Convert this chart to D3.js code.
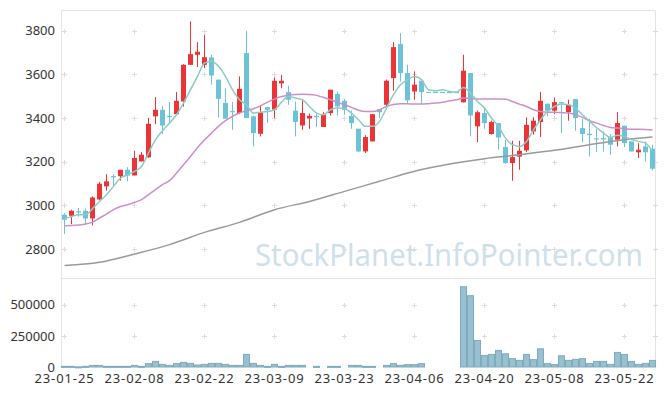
<!DOCTYPE html>
<html>
<head>
<meta charset="utf-8">
<script src="https://cdn.jsdelivr.net/npm/d3@7"></script>
<style>
  body { margin: 0; background: #fff; }
  svg { display: block; }
  text { font-family: "Noto Sans", "DejaVu Sans", sans-serif; }
</style>
</head>
<body>
<div id="chart"></div>
<script>
// trading days, 23-01-25 .. 23-05-26
const dates = [
  "23-01-25","23-01-26","23-01-27","23-01-30","23-01-31","23-02-01","23-02-02","23-02-03","23-02-06","23-02-07",
  "23-02-08","23-02-09","23-02-10","23-02-13","23-02-14","23-02-15","23-02-16","23-02-17","23-02-20","23-02-21",
  "23-02-22","23-02-23","23-02-24","23-02-27","23-02-28","23-03-02","23-03-03","23-03-06","23-03-07","23-03-08",
  "23-03-09","23-03-10","23-03-13","23-03-14","23-03-15","23-03-16","23-03-17","23-03-20","23-03-21","23-03-22",
  "23-03-23","23-03-24","23-03-27","23-03-28","23-03-29","23-03-30","23-03-31","23-04-03","23-04-04","23-04-05",
  "23-04-06","23-04-07","23-04-10","23-04-11","23-04-12","23-04-13","23-04-14","23-04-17","23-04-18","23-04-19",
  "23-04-20","23-04-21","23-04-24","23-04-25","23-04-26","23-04-27","23-04-28","23-05-02","23-05-03","23-05-04",
  "23-05-08","23-05-09","23-05-10","23-05-11","23-05-12","23-05-15","23-05-16","23-05-17","23-05-18","23-05-19",
  "23-05-22","23-05-23","23-05-24","23-05-25","23-05-26"
];

const openP = [
  2957,2952,2973,2975,2940,3027,3087,3134,3133,3163,
  3137,3201,3220,3408,3438,3410,3418,3476,3644,3690,
  3644,3678,3576,3469,3432,3423,3698,3408,3328,3450,
  3438,3559,3519,3434,3366,3398,3410,3359,3423,3511,
  3479,3410,3351,3247,3293,3441,3461,3583,3739,3606,
  3522,3571,3520,3520,3520,3520,3520,3472,3606,3362,
  3423,3327,3377,3267,3194,3223,3252,3339,3382,3466,
  3434,3473,3427,3487,3354,3328,3307,3308,3313,3301,
  3365,3293,3243,3270,3259
];
const highP = [
  2965,2980,2988,2985,3041,3107,3143,3143,3163,3175,
  3250,3244,3400,3496,3456,3473,3519,3647,3843,3748,
  3782,3690,3576,3537,3473,3591,3800,3410,3458,3452,
  3586,3598,3548,3476,3488,3420,3423,3427,3530,3522,
  3488,3434,3351,3321,3418,3441,3576,3748,3789,3644,
  3614,3571,3520,3520,3520,3520,3520,3690,3606,3434,
  3449,3388,3377,3300,3296,3296,3403,3403,3519,3466,
  3495,3473,3484,3487,3397,3397,3351,3339,3327,3427,
  3365,3293,3285,3293,3278
];
const lowP = [
  2869,2914,2948,2911,2908,3025,3067,3090,3113,3110,
  3137,3201,3218,3372,3327,3377,3415,3453,3644,3634,
  3629,3553,3403,3400,3346,3418,3400,3270,3316,3377,
  3400,3537,3461,3316,3346,3351,3359,3359,3411,3411,
  3415,3351,3245,3240,3293,3400,3453,3525,3568,3469,
  3484,3464,3520,3520,3520,3520,3520,3472,3316,3290,
  3351,3324,3255,3190,3113,3163,3244,3324,3313,3408,
  3418,3331,3388,3342,3290,3224,3244,3247,3232,3270,
  3267,3247,3217,3201,3160
];
const closeP = [
  2934,2975,2970,2940,3036,3099,3110,3131,3163,3136,
  3217,3232,3374,3438,3366,3408,3479,3644,3693,3704,
  3679,3595,3488,3397,3428,3534,3400,3331,3427,3438,
  3571,3571,3484,3382,3423,3410,3404,3418,3530,3453,
  3438,3377,3247,3313,3418,3427,3571,3725,3606,3481,
  3553,3519,3520,3520,3520,3520,3520,3617,3412,3427,
  3377,3382,3311,3194,3221,3250,3369,3388,3479,3434,
  3473,3470,3461,3400,3327,3322,3305,3305,3278,3377,
  3285,3247,3255,3243,3168
];
const volume = [
  5000,5000,1000,5000,13000,13000,5000,5000,5000,5000,
  13000,5000,27000,45000,21000,13000,27000,37000,29000,16000,
  21000,29000,29000,21000,13000,13000,101000,29000,13000,5000,
  21000,5000,13000,13000,13000,0,5000,0,5000,5000,
  0,13000,13000,5000,5000,0,13000,27000,13000,19000,
  19000,27000,0,0,0,0,0,644000,572000,213000,
  93000,101000,133000,106000,67000,53000,101000,59000,146000,27000,
  19000,90000,53000,61000,67000,27000,45000,45000,21000,117000,
  101000,45000,21000,29000,53000
];
const ma5 = [
  2939,2949,2957,2957,2985,3018,3049,3087,3125,3140,
  3156,3178,3240,3301,3342,3377,3415,3469,3530,3591,
  3652,3660,3637,3591,3530,3484,3461,3423,3427,3430,
  3438,3473,3499,3492,3484,3453,3423,3415,3438,3446,
  3443,3423,3392,3362,3362,3385,3446,3507,3553,3576,
  3591,3576,3530,3525,3530,3522,3519,3540,3514,3476,
  3446,3400,3362,3308,3278,3270,3293,3346,3392,3430,
  3453,3464,3461,3446,3415,3385,3357,3331,3311,3321,
  3316,3301,3293,3285,3247
];
const ma20 = [
  2907,2908,2910,2914,2923,2942,2960,2980,2995,3003,
  3014,3026,3049,3072,3095,3113,3148,3186,3224,3265,
  3300,3331,3362,3388,3408,3423,3434,3443,3456,3473,
  3487,3499,3505,3508,3509,3508,3504,3495,3484,3472,
  3461,3449,3436,3430,3430,3438,3453,3462,3466,3466,
  3464,3464,3466,3469,3473,3479,3484,3492,3489,3487,
  3487,3487,3487,3486,3476,3464,3453,3438,3430,3427,
  3427,3425,3423,3415,3403,3388,3377,3366,3357,3354,
  3351,3349,3349,3348,3346
];
// 60-day line, read at every fifth day
const ma60Idx = [0,5,10,15,20,25,30,35,40,45,50,55,60,65,70,75,80,84];
const ma60Val = [2724,2739,2777,2820,2876,2922,2980,3018,3064,3110,3156,3189,3214,3232,3252,3278,3301,3313];

const priceTicks = [2800, 3000, 3200, 3400, 3600, 3800];
const volTicks = [0, 250000, 500000];
const dateTicks = ["23-01-25","23-02-08","23-02-22","23-03-09","23-03-23","23-04-06","23-04-20","23-05-08","23-05-22"];

const W = 665, H = 396;
const plotL = 61, plotR = 656, plotT = 10.5, split = 278, bottom = 367;

const svg = d3.select("#chart").append("svg")
  .attr("width", W)
  .attr("height", H);

const x = d3.scaleBand()
  .domain(dates)
  .range([plotL, plotR])
  .padding(0);
const cx = d => x(d) + x.bandwidth() / 2;

const y = d3.scaleLinear().domain([2667, 3893]).range([split, plotT]);
const yv = d3.scaleLinear().domain([0, 714000]).range([bottom, split]);

// frame
const frame = svg.append("g").attr("stroke", "#e4e4e4").attr("stroke-width", 1);
frame.append("line").attr("x1", 61.5).attr("x2", 655.5).attr("y1", 10.5).attr("y2", 10.5);
frame.append("line").attr("x1", 61.5).attr("x2", 61.5).attr("y1", 10.5).attr("y2", bottom);
frame.append("line").attr("x1", 655.5).attr("x2", 655.5).attr("y1", 10.5).attr("y2", bottom);
frame.append("line").attr("x1", 61.5).attr("x2", 655.5).attr("y1", 278.5).attr("y2", 278.5);

// little + marks where grid lines would cross
const crossX = dateTicks.map(d => Math.floor(cx(d)) + 0.5).concat([655.5]);
const crossY = priceTicks.map(v => Math.round(y(v)) + 0.5)
  .concat(volTicks.filter(v => v > 0).map(v => Math.round(yv(v)) + 0.5));
const crosses = svg.append("g").attr("stroke", "#dcdcdc").attr("stroke-width", 1);
crossX.forEach(px => {
  crossY.forEach(py => {
    crosses.append("line").attr("x1", px - 2.5).attr("x2", px + 2.5).attr("y1", py).attr("y2", py);
    crosses.append("line").attr("x1", px).attr("x2", px).attr("y1", py - 2.5).attr("y2", py + 2.5);
  });
});

// watermark
svg.append("text")
  .attr("x", 255).attr("y", 266)
  .attr("font-size", 31)
  .attr("fill", "#cfe0e9")
  .attr("textLength", 388)
  .attr("lengthAdjust", "spacingAndGlyphs")
  .text("StockPlanet.InfoPointer.com");

// candles
const red = "#ec3437", blue = "#6cc2d7";
const candles = svg.append("g").selectAll("g")
  .data(dates)
  .join("g");
candles.append("line")
  .attr("x1", (d) => Math.floor(cx(d)) + 0.5)
  .attr("x2", (d) => Math.floor(cx(d)) + 0.5)
  .attr("y1", (d, i) => y(highP[i]))
  .attr("y2", (d, i) => y(lowP[i]))
  .attr("stroke", (d, i) => closeP[i] > openP[i] ? red : blue)
  .attr("stroke-width", 1);
candles.append("rect")
  .attr("x", d => Math.floor(cx(d)) - 2)
  .attr("width", 5)
  .attr("y", (d, i) => y(Math.max(openP[i], closeP[i])))
  .attr("height", (d, i) => Math.max(1.2, Math.abs(y(openP[i]) - y(closeP[i]))))
  .attr("fill", (d, i) => closeP[i] > openP[i] ? red : blue);

// moving averages
const line = d3.line().x(d => d[0]).y(d => d[1]).curve(d3.curveMonotoneX);
svg.append("path")
  .attr("d", line(ma60Idx.map((k, j) => [cx(dates[k]), y(ma60Val[j])])))
  .attr("fill", "none").attr("stroke", "#9a9a9a").attr("stroke-width", 1.5);
svg.append("path")
  .attr("d", line(ma20.map((v, i) => [cx(dates[i]), y(v)])))
  .attr("fill", "none").attr("stroke", "#cc8fca").attr("stroke-width", 1.5);
svg.append("path")
  .attr("d", line(ma5.map((v, i) => [cx(dates[i]), y(v)])))
  .attr("fill", "none").attr("stroke", "#8cccc3").attr("stroke-width", 1.5);

// volume
svg.append("g").selectAll("rect")
  .data(dates.filter((d, i) => volume[i] > 0))
  .join("rect")
  .attr("x", d => x(d) + 0.5)
  .attr("width", x.bandwidth() - 1)
  .attr("y", d => yv(volume[dates.indexOf(d)]))
  .attr("height", d => Math.max(1, bottom - yv(volume[dates.indexOf(d)])))
  .attr("fill", "#98c0d0")
  .attr("stroke", "#7eabbe")
  .attr("stroke-width", 1);

// axes
const styleAxis = g => {
  g.select(".domain").remove();
  g.selectAll("text").attr("font-size", 13).attr("fill", "#333")
    .attr("font-family", "\"Noto Sans\", sans-serif");
};
svg.append("g")
  .attr("transform", "translate(62,0)")
  .call(d3.axisLeft(y).tickValues(priceTicks).tickSize(0).tickPadding(7).tickFormat(d3.format("d")))
  .call(styleAxis);
svg.append("g")
  .attr("transform", "translate(62,0)")
  .call(d3.axisLeft(yv).tickValues(volTicks).tickSize(0).tickPadding(7).tickFormat(d3.format("d")))
  .call(styleAxis);
svg.append("g")
  .attr("transform", "translate(0,371)")
  .call(d3.axisBottom(x).tickValues(dateTicks).tickSize(0).tickPadding(3))
  .call(styleAxis)
  .call(g => g.selectAll("text").attr("letter-spacing", "0.9px"));
</script>
</body>
</html>
